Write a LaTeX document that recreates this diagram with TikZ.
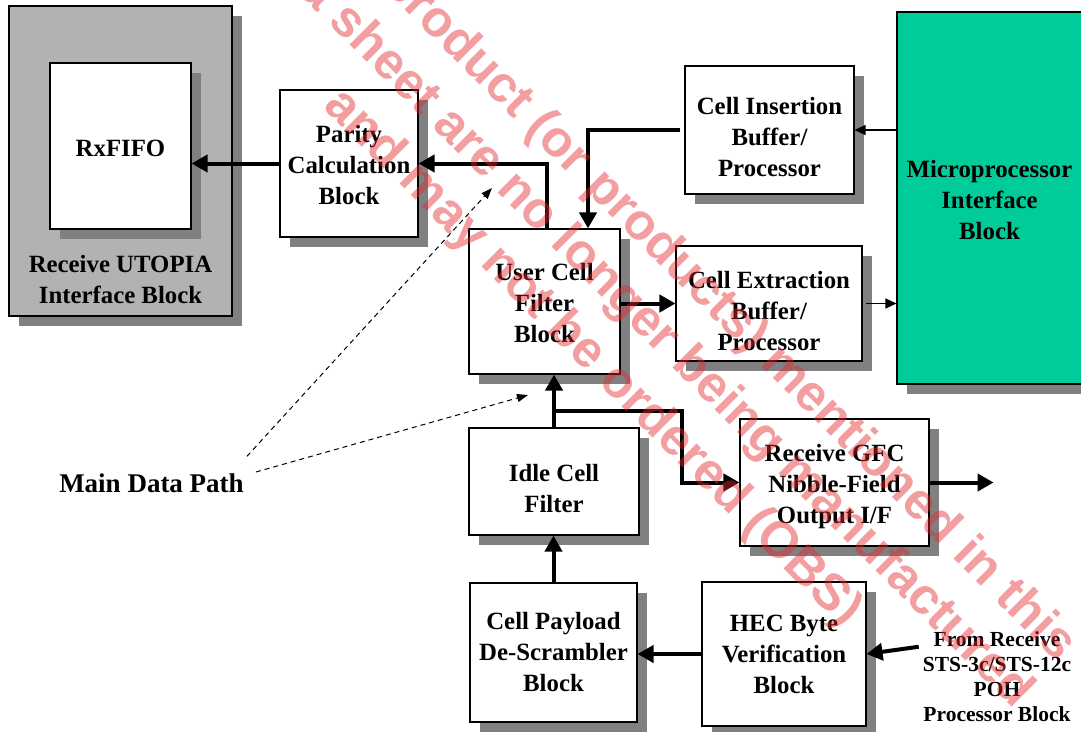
\documentclass[tikz,border=0pt]{standalone}
\usepackage{fontspec}
\setmainfont{Liberation Serif}
\newfontfamily\wmfont{Liberation Sans}
\usetikzlibrary{arrows.meta, positioning, calc, shadows}
\definecolor{utopiaGray}{RGB}{178,178,178}
\definecolor{shadeGray}{RGB}{128,128,128}
\definecolor{cpuGreen}{RGB}{0,204,153}
\definecolor{obsRed}{RGB}{228,40,44}
% taller first line pushes the block text down
\newcommand{\dropln}[1]{\rule{0pt}{#1}}

\begin{document}
\begin{tikzpicture}[
  x=1pt, y=-1pt,
  blk/.style={rectangle, draw, line width=1.1pt, fill=white, align=center,
              font=\bfseries\fontsize{24.8}{31}\selectfont, inner sep=0pt,
              drop shadow={shadow xshift=10pt, shadow yshift=-10pt,
                           fill=shadeGray, opacity=1}},
  outerblk/.style={blk, fill=utopiaGray},
  cpublk/.style={blk, fill=cpuGreen},
  txt/.style={align=center, font=\bfseries\fontsize{24.8}{30.5}\selectfont, inner sep=0pt},
  lbl/.style={align=center, font=\bfseries\fontsize{21.5}{25}\selectfont, inner sep=0pt},
  bus/.style={-{Triangle[length=16pt, width=17pt]}, line width=4pt},
  ctrl/.style={-{Triangle[length=11pt, width=10pt]}, line width=1.2pt},
  note/.style={-{Triangle[length=11pt, width=8pt]}, line width=1pt,
               dash pattern=on 5pt off 4pt},
  wmark/.style={font=\wmfont\bfseries\fontsize{51}{56}\selectfont, text=obsRed,
                text opacity=0.45, rotate=-45, inner sep=0pt, anchor=base east}
]
\useasboundingbox (0,0) rectangle (1081,731);

% Receive UTOPIA side
\node[outerblk, minimum width=223pt, minimum height=310pt] (utopia) at (120.5,161) {};
\node[blk, minimum width=141pt, minimum height=166pt] (rxfifo) at (120.5,146) {\dropln{21pt}RxFIFO};
\node[txt] (utopialbl) at ($(utopia.south)+(0,-37)$) {Receive UTOPIA\\Interface Block};
\node[blk, minimum width=138pt, minimum height=147pt] (parity) at (349,163.5) {\dropln{21pt}Parity\\Calculation\\Block};

% Microprocessor side
\node[blk, minimum width=169pt, minimum height=128pt] (insert) at (769.5,130) {\dropln{31pt}Cell Insertion\\Buffer/\\Processor};
\node[cpublk, minimum width=185pt, minimum height=372pt] (cpu) at (989.5,198) {\dropln{21pt}Microprocessor\\Interface\\Block};
\node[blk, minimum width=186pt, minimum height=115pt] (extract) at (769,303.5) {\dropln{32pt}Cell Extraction\\Buffer/\\Processor};

% Filter chain
\node[blk, minimum width=151pt, minimum height=145pt] (user) at (544.5,301.5) {\dropln{21pt}User Cell\\Filter\\Block};
\node[blk, minimum width=170pt, minimum height=107pt] (idle) at (554,481.5) {\dropln{32pt}Idle Cell\\Filter};
\node[blk, minimum width=189pt, minimum height=127pt] (gfc) at (834.5,482.5) {\dropln{25pt}Receive GFC\\Nibble-Field\\Output I/F};
\node[blk, minimum width=167pt, minimum height=139pt] (payload) at (553.5,652.5) {Cell Payload\\De-Scrambler\\Block};
\node[blk, minimum width=164pt, minimum height=144pt] (hec) at (784,654) {HEC Byte\\Verification\\Block};

% Labels
\node[lbl] (poh) at (997,677) {From Receive\\STS-3c/STS-12c\\POH\\Processor Block};
\node[txt, font=\bfseries\fontsize{27}{32}\selectfont] (mdp) at (151.5,483) {Main Data Path};

% Free ends
\coordinate (split) at ($(idle.north)!0.32!(idle.north |- user.south)$);
\coordinate[right=64pt of gfc.east] (gfcout);
\coordinate (pohin) at ($(poh.north west)+(-4,15)$);
\coordinate (mdptop) at (492,188);
\coordinate (mdpmid) at (528,395);

% Data path
\draw[bus] (hec.west) -- (payload.east |- hec.west);
\draw[bus] (pohin) -- (hec.east);
\draw[bus] (payload.north) -- (payload.north |- idle.south);
\draw[bus] (idle.north) -- (idle.north |- user.south);
\draw[bus] (split) -| ([xshift=-57pt]gfc.west) -- (gfc.west);
\draw[bus] (gfc.east) -- (gfcout);
\draw[bus] (user.east |- extract.west) -- (extract.west);
\draw[bus, shorten <=4pt] (insert.west) -| ($(user.north)+(43.5,0)$);
\draw[bus] ([xshift=2.5pt]user.north) |- (parity.east);
\draw[bus] (parity.west) -- (rxfifo.east |- parity.west);

% Microprocessor links
\draw[ctrl] (cpu.west |- insert.east) -- (insert.east);
\draw[ctrl, shorten <=3pt] (extract.east) -- (cpu.west |- extract.east);

% Main data path pointers
\draw[note] ([shift={(3,-17)}]mdp.north east) -- (mdptop);
\draw[note] ([shift={(12,-11)}]mdp.east) -- (mdpmid);

% Obsolete watermark
\node[wmark] (wm1) at (1058,663) {product (or products) mentioned in this};
\node[wmark] (wm2) at (1015,710) {data sheet are no longer being manufactured};
\node[wmark] (wm3) at (844,629) {and may not be ordered (OBS)};

\end{tikzpicture}
\end{document}
